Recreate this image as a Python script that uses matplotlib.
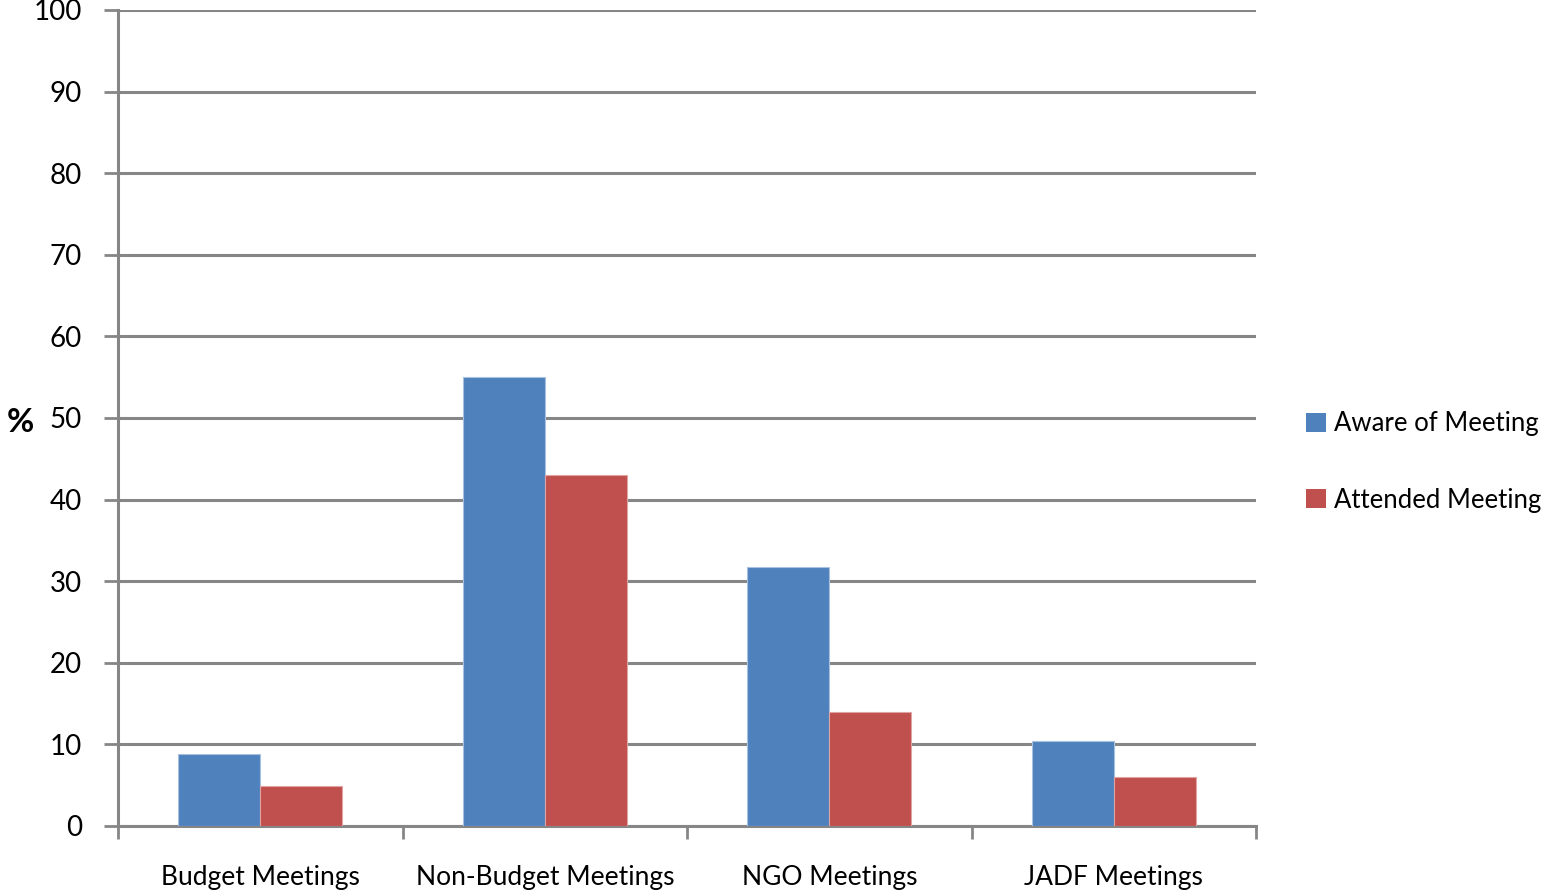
import numpy as np
import matplotlib
matplotlib.use("Agg")
from matplotlib import pyplot as plt
from matplotlib.patches import Patch

plt.rcParams['font.family'] = ['Lato', 'DejaVu Sans']

categories = ["Budget Meetings", "Non-Budget Meetings", "NGO Meetings", "JADF Meetings"]
aware = [8.8, 55, 31.7, 10.4]
attended = [4.9, 43, 14, 6.0]
series_names = ["Aware of Meeting", "Attended Meeting"]
colors = ["#4F81BD", "#C0504D"]

fig = plt.figure(figsize=(15.53, 8.94), dpi=100)
ax = fig.add_axes([118/1553, 1 - 826/894, (1256-118)/1553, (826-10)/894])

x = np.arange(len(categories))
w = 0.288
ax.bar(x - w/2, aware, w, color=colors[0], edgecolor="#A9C1E0", linewidth=0.8, zorder=3)
ax.bar(x + w/2, attended, w, color=colors[1], edgecolor="#E0A4A2", linewidth=0.8, zorder=3)

ax.set_xlim(-0.5, len(categories) - 0.5)
ax.set_ylim(0, 100)
ax.set_yticks(np.arange(0, 101, 10))
ax.yaxis.grid(True, color="#868686", linewidth=2.2, zorder=0)
ax.set_axisbelow(True)

# category boundaries carry the ticks, names sit between them
ax.set_xticks(np.arange(-0.5, len(categories)), minor=False)
ax.set_xticklabels([])
ax.set_xticks(x, minor=True)
ax.set_xticklabels(categories, minor=True, fontsize=19)
ax.tick_params(axis="x", which="minor", length=0, pad=28)
ax.tick_params(axis="x", which="major", length=9, width=2, color="#868686")
ax.tick_params(axis="y", length=10, width=2, color="#868686", labelsize=20, pad=16)

for side in ["top", "right"]:
    ax.spines[side].set_visible(False)
for side in ["left", "bottom"]:
    ax.spines[side].set_color("#868686")
    ax.spines[side].set_linewidth(2.2)

fig.text(20/1553, 1 - 422/894, "%", fontsize=24, fontweight="bold",
         ha="center", va="center")

handles = [Patch(facecolor=c) for c in colors]
fig.legend(handles, series_names, loc="center left",
           bbox_to_anchor=(1306/1553, 1 - 462/894), frameon=False,
           fontsize=18.5, handlelength=0.78, handleheight=0.78,
           handletextpad=0.3, labelspacing=2.0, borderaxespad=0,
           borderpad=0)

fig.savefig("out.png", dpi=100)
